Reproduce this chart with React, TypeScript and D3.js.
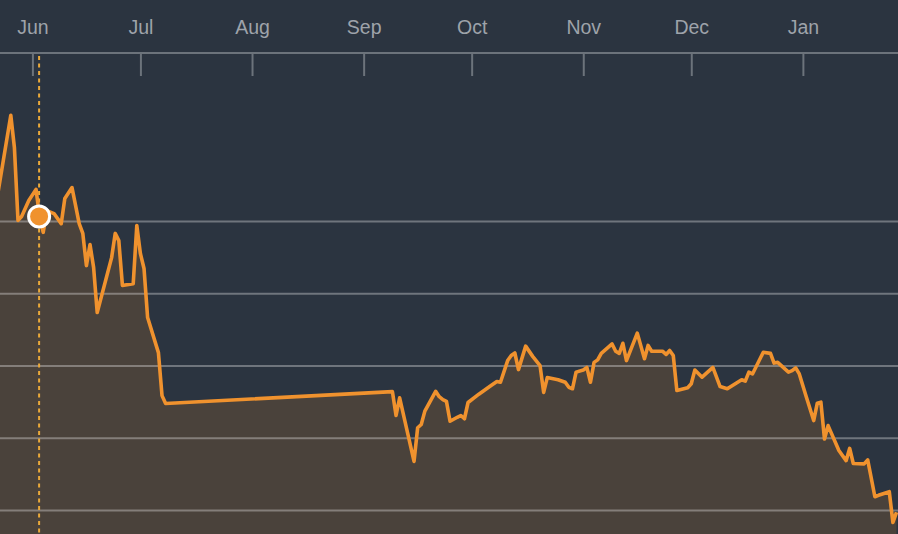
import { useEffect, useMemo, useRef } from "react";
import * as d3 from "d3";

const WIDTH = 898;
const HEIGHT = 534;

const BG = "#2b3440";
const LINE = "#f0922e";
const FILL = "#4a423b";

const DATES = [
  "2015-05-22", "2015-05-26", "2015-05-27", "2015-05-28", "2015-05-29", "2015-05-31",
  "2015-06-02", "2015-06-03", "2015-06-04", "2015-06-05", "2015-06-07", "2015-06-09",
  "2015-06-10", "2015-06-12", "2015-06-14", "2015-06-15", "2015-06-16", "2015-06-17",
  "2015-06-18", "2015-06-19", "2015-06-23", "2015-06-24", "2015-06-25", "2015-06-26",
  "2015-06-29", "2015-06-30", "2015-07-01", "2015-07-02", "2015-07-03", "2015-07-06",
  "2015-07-07", "2015-07-08",
  "2015-09-09", "2015-09-10", "2015-09-11", "2015-09-15", "2015-09-16", "2015-09-17",
  "2015-09-18", "2015-09-21", "2015-09-22", "2015-09-23", "2015-09-24", "2015-09-25",
  "2015-09-27", "2015-09-28", "2015-09-29", "2015-09-30", "2015-10-03", "2015-10-06",
  "2015-10-08", "2015-10-09", "2015-10-11", "2015-10-12", "2015-10-13", "2015-10-14",
  "2015-10-16", "2015-10-18", "2015-10-20", "2015-10-21", "2015-10-22", "2015-10-25",
  "2015-10-27", "2015-10-28", "2015-10-29", "2015-10-30", "2015-11-01", "2015-11-02",
  "2015-11-03", "2015-11-04", "2015-11-05", "2015-11-06", "2015-11-09", "2015-11-10",
  "2015-11-11", "2015-11-12", "2015-11-13", "2015-11-16", "2015-11-18", "2015-11-19",
  "2015-11-20", "2015-11-23", "2015-11-24", "2015-11-25", "2015-11-26", "2015-11-27",
  "2015-11-30", "2015-12-01", "2015-12-02", "2015-12-04", "2015-12-07", "2015-12-09",
  "2015-12-11", "2015-12-15", "2015-12-16", "2015-12-17", "2015-12-18", "2015-12-21",
  "2015-12-23", "2015-12-24", "2015-12-25", "2015-12-28", "2015-12-29", "2015-12-30",
  "2015-12-31", "2016-01-02", "2016-01-04", "2016-01-05", "2016-01-06", "2016-01-07",
  "2016-01-08", "2016-01-11", "2016-01-13", "2016-01-14", "2016-01-15", "2016-01-18",
  "2016-01-19", "2016-01-21", "2016-01-22", "2016-01-25", "2016-01-26", "2016-01-27",
];

const PRICES = [
  20.53, 22.94, 22.05, 20.03, 20.14, 20.58,
  20.89, 20.14, 19.7, 20.3, 20.22, 19.94,
  20.64, 20.94, 19.94, 19.67, 18.78, 19.36,
  18.73, 17.48, 19.0, 19.67, 19.47, 18.23,
  18.28, 19.89, 19.11, 18.7, 17.34, 16.37,
  15.18, 14.96,
  15.29, 14.63, 15.12, 13.36, 14.29, 14.38,
  14.75, 15.3, 15.15, 15.07, 15.02, 14.47,
  14.58, 14.63, 14.54, 14.99, 15.22, 15.43,
  15.57, 15.55, 16.15, 16.29, 16.36, 15.9,
  16.55, 16.26, 16.01, 15.27, 15.68, 15.62,
  15.55, 15.41, 15.37, 15.83, 15.89, 15.96,
  15.55, 16.1, 16.17, 16.35, 16.61, 16.41,
  16.35, 16.63, 16.15, 16.91, 16.2, 16.57,
  16.41, 16.41, 16.32, 16.43, 16.29, 15.32,
  15.4, 15.51, 15.89, 15.69, 15.96, 15.43,
  15.37, 15.62, 15.58, 15.83, 15.78, 16.38,
  16.35, 16.08, 16.1, 15.83, 15.87, 15.95,
  15.78, 15.13, 14.49, 14.97, 15.0, 13.98,
  14.35, 13.66, 13.38, 13.72, 13.3, 13.29,
  13.4, 12.38, 12.42, 12.52, 11.67, 11.95,
];

const GRID_VALUES = [12, 14, 16, 18, 20];
const MONTH_TICKS = [
  "2015-06-01", "2015-07-01", "2015-08-01", "2015-09-01",
  "2015-10-01", "2015-11-01", "2015-12-01", "2016-01-01",
];
const HIGHLIGHT_DATE = "2015-06-03";

const parse = d3.utcParse("%Y-%m-%d");

export default function App() {
  const axisRef = useRef<SVGGElement | null>(null);

  const data = useMemo(
    () => DATES.map((d, i) => ({ date: parse(d) as Date, value: PRICES[i] })),
    []
  );

  const xScale = d3
    .scaleUtc()
    .domain([Date.UTC(2015, 4, 23), Date.UTC(2016, 0, 27, 10)])
    .range([0, WIDTH]);

  const yScale = d3.scaleLinear().domain([12, 20]).range([510.5, 221.5]);

  const line = d3
    .line<{ date: Date; value: number }>()
    .x((d) => xScale(d.date))
    .y((d) => yScale(d.value));

  const area = d3
    .area<{ date: Date; value: number }>()
    .x((d) => xScale(d.date))
    .y0(HEIGHT + 10)
    .y1((d) => yScale(d.value));

  const hl = data.find((d) => +d.date === +(parse(HIGHLIGHT_DATE) as Date))!;
  const hlX = xScale(hl.date) - 0.5;

  useEffect(() => {
    const g = d3.select(axisRef.current);
    g.selectAll("*").remove();
    const axis = d3
      .axisBottom(xScale)
      .tickValues(MONTH_TICKS.map((t) => parse(t) as Date))
      .tickFormat((d) => d3.utcFormat("%b")(d as Date))
      .tickSize(23)
      .tickSizeOuter(0);
    g.call(axis);
    g.select(".domain").attr("stroke", "#6c737b").attr("stroke-width", 2).attr("d", `M-10,0H${WIDTH + 10}`);
    g.selectAll(".tick line").attr("stroke", "#6c737b").attr("stroke-width", 2);
    g.selectAll(".tick text")
      .attr("y", -26)
      .attr("dy", "0.35em")
      .attr("fill", "#9ea3aa")
      .attr("font-size", 19.5)
      .attr("font-family", "Liberation Sans, Arial, sans-serif");
  }, []);

  return (
    <svg
      width={WIDTH}
      height={HEIGHT}
      style={{ position: "absolute", left: 0, top: 0, background: BG, display: "block" }}
    >
      <rect width={WIDTH} height={HEIGHT} fill={BG} />
      <path d={area(data) ?? ""} fill={FILL} />
      {GRID_VALUES.map((v) => (
        <line
          key={v}
          x1={0}
          x2={WIDTH}
          y1={yScale(v)}
          y2={yScale(v)}
          stroke="#ffffff"
          strokeOpacity={0.32}
          strokeWidth={2}
        />
      ))}
      <g ref={axisRef} transform="translate(0,53)" />
      <line
        x1={hlX}
        x2={hlX}
        y1={56}
        y2={HEIGHT}
        stroke="#eaa93a"
        strokeWidth={2}
        strokeDasharray="4,3.5"
      />
      <path
        d={line(data) ?? ""}
        fill="none"
        stroke={LINE}
        strokeWidth={3.6}
        strokeLinejoin="round"
      />
      <circle cx={hlX} cy={yScale(hl.value)} r={10.5} fill={LINE} stroke="#ffffff" strokeWidth={3} />
    </svg>
  );
}
